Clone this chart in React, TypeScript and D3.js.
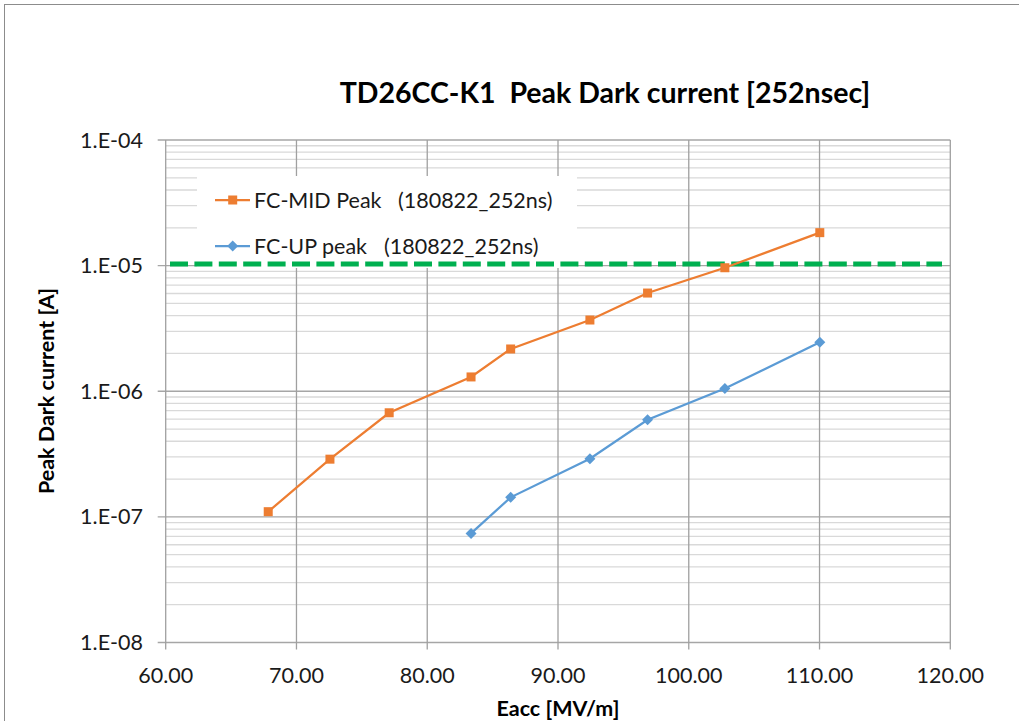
import React from "react";
import * as d3 from "d3";

// Accelerating field [MV/m] for each measurement point
const eaccMid = [67.84, 72.56, 77.09, 83.35, 86.38, 92.44, 96.85, 102.76, 110.02];
const currentMid = [1.1e-7, 2.88e-7, 6.74e-7, 1.3e-6, 2.17e-6, 3.69e-6, 6.05e-6, 9.62e-6, 1.83e-5];

const eaccUp = [83.35, 86.38, 92.44, 96.85, 102.76, 110.02];
const currentUp = [7.39e-8, 1.43e-7, 2.9e-7, 5.93e-7, 1.05e-6, 2.46e-6];

const xTicks = [60, 70, 80, 90, 100, 110, 120];
const yDecades = [1e-8, 1e-7, 1e-6, 1e-5, 1e-4];
const yTickLabels = ["1.E-08", "1.E-07", "1.E-06", "1.E-05", "1.E-04"];

const limitLevel = 1.03e-5;

const seriesNames = ["FC-MID Peak", "FC-UP peak"];
const seriesTag = "(180822_252ns)";

const W = 1019;
const H = 721;
const FONT = "Lato, 'Open Sans', sans-serif";

export default function App() {
  const x = d3.scaleLinear().domain([60, 120]).range([165.7, 950.3]);
  const y = d3.scaleLog().domain([1e-8, 1e-4]).range([642.5, 140]);

  const minor: number[] = [];
  for (let e = -8; e < -4; e++) {
    for (let k = 2; k <= 9; k++) minor.push(k * Math.pow(10, e));
  }

  const line = d3
    .line<[number, number]>()
    .x((d) => x(d[0]))
    .y((d) => y(d[1]));

  const midPts: [number, number][] = eaccMid.map((v, i) => [v, currentMid[i]]);
  const upPts: [number, number][] = eaccUp.map((v, i) => [v, currentUp[i]]);

  const orange = "#ed7d31";
  const blue = "#5b9bd5";
  const [x0, x1] = x.range();

  const square = (cx: number, cy: number, key: string | number) => (
    <rect key={key} x={cx - 4.5} y={cy - 4.5} width={9} height={9} fill={orange} />
  );
  const diamond = (cx: number, cy: number, key: string | number) => (
    <path key={key} d={`M${cx},${cy - 5.5}L${cx + 5.5},${cy}L${cx},${cy + 5.5}L${cx - 5.5},${cy}Z`} fill={blue} />
  );

  return (
    <svg
      width={W}
      height={H}
      style={{ position: "fixed", left: 0, top: 0, background: "#fff" }}
      fontFamily={FONT}
    >
      <rect x={0} y={0} width={W} height={H} fill="#fff" />
      {/* chart frame */}
      <rect x={4.5} y={4.5} width={W + 20} height={H + 20} fill="none" stroke="#8c8c8c" strokeWidth={1} />

      {/* minor horizontal gridlines */}
      {minor.map((v, i) => (
        <line key={`mn${i}`} x1={x0} x2={x1} y1={y(v)} y2={y(v)} stroke="#d9d9d9" strokeWidth={1.3} />
      ))}
      {/* major horizontal gridlines */}
      {yDecades.map((v, i) => (
        <line key={`mj${i}`} x1={x0 - 8} x2={x1} y1={y(v)} y2={y(v)} stroke="#a6a6a6" strokeWidth={1.3} />
      ))}
      {/* vertical gridlines */}
      {xTicks.map((v, i) => (
        <line key={`vx${i}`} x1={x(v)} x2={x(v)} y1={y(1e-4)} y2={y(1e-8) + 7} stroke="#a0a0a0" strokeWidth={1.3} />
      ))}

      {/* legend */}
      <rect x={197} y={176} width={380} height={92} fill="#fff" />
      <line x1={215} x2={250} y1={200} y2={200} stroke={orange} strokeWidth={2.25} />
      {square(232.7, 200, "lg1")}
      <text x={254} y={207.5} fontSize={21.5} fill="#1a1a1a">
        <tspan>{seriesNames[0]}</tspan>
        <tspan x={398}>{seriesTag}</tspan>
      </text>
      <line x1={215} x2={250} y1={246} y2={246} stroke={blue} strokeWidth={2.25} />
      {diamond(232.7, 246, "lg2")}
      <text x={254} y={253.5} fontSize={21.5} fill="#1a1a1a">
        <tspan>{seriesNames[1]}</tspan>
        <tspan x={384}>{seriesTag}</tspan>
      </text>

      {/* limit line */}
      <line
        x1={170}
        x2={942}
        y1={y(limitLevel)}
        y2={y(limitLevel)}
        stroke="#00b050"
        strokeWidth={5}
        strokeDasharray="18 6.4"
      />

      {/* data series */}
      <path d={line(midPts) || ""} fill="none" stroke={orange} strokeWidth={2.25} />
      {midPts.map((p, i) => square(x(p[0]), y(p[1]), `m${i}`))}
      <path d={line(upPts) || ""} fill="none" stroke={blue} strokeWidth={2.25} />
      {upPts.map((p, i) => diamond(x(p[0]), y(p[1]), `u${i}`))}

      {/* y tick labels */}
      {yDecades.map((v, i) => (
        <text key={`yl${i}`} x={143} y={y(v) + 7.5} textAnchor="end" fontSize={21.5} fill="#1a1a1a">
          {yTickLabels[i]}
        </text>
      ))}
      {/* x tick labels */}
      {xTicks.map((v, i) => (
        <text key={`xl${i}`} x={x(v)} y={683} textAnchor="middle" fontSize={21.5} fill="#1a1a1a">
          {d3.format(".2f")(v)}
        </text>
      ))}

      {/* titles */}
      <text
        x={605}
        y={103}
        textAnchor="middle"
        fontSize={28.5}
        fontWeight="bold"
        fill="#000"
        style={{ whiteSpace: "pre" }}
      >
        {"TD26CC-K1  Peak Dark current [252nsec]"}
      </text>
      <text x={558} y={716} textAnchor="middle" fontSize={21.5} fontWeight="bold" fill="#000">
        Eacc [MV/m]
      </text>
      <text
        transform={`translate(54,391) rotate(-90)`}
        textAnchor="middle"
        fontSize={21.5}
        fontWeight="bold"
        fill="#000"
      >
        Peak Dark current [A]
      </text>
    </svg>
  );
}
